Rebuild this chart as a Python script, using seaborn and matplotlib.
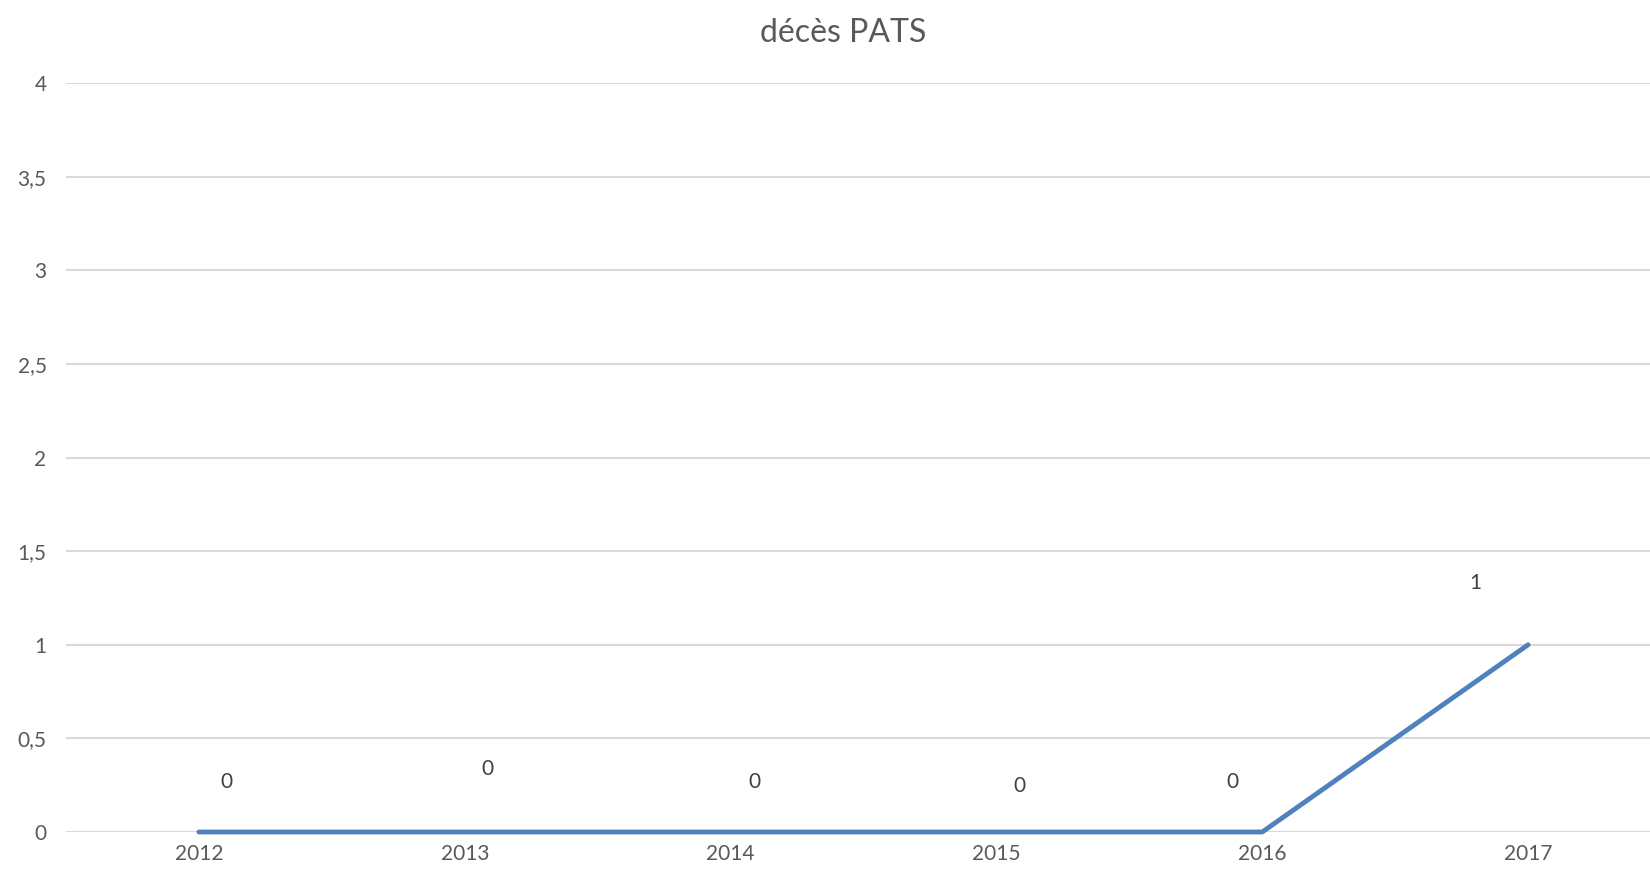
import matplotlib
matplotlib.use("Agg")
import matplotlib.pyplot as plt
import seaborn as sns
import pandas as pd

years = ["2012", "2013", "2014", "2015", "2016", "2017"]
deaths = [0, 0, 0, 0, 0, 1]
title = "décès PATS"
yticks = [0, 0.5, 1, 1.5, 2, 2.5, 3, 3.5, 4]

# manual data-label offsets (category units, value units) as placed in the original
label_dx = [0.105, 0.087, 0.088, 0.087, -0.113, -0.197]
label_dy = [0.267, 0.336, 0.267, 0.246, 0.267, 0.33]

sns.set_theme(style="white")
plt.rcParams["font.family"] = ["Lato", "DejaVu Sans"]

df = pd.DataFrame({"year": years, "deaths": deaths})
df["pos"] = range(len(years))

fig = plt.figure(figsize=(16.5, 8.73), dpi=100)
ax = fig.add_axes([66 / 1650, 41 / 873, 1595 / 1650, 749 / 873])

sns.lineplot(data=df, x="pos", y="deaths", ax=ax, color="#4F81BD",
             linewidth=3.5, solid_capstyle="round", zorder=3, clip_on=False)

ax.set_xlim(-0.5, len(years) - 0.5)
ax.set_ylim(0, 4)
ax.set_yticks(yticks)
ax.set_yticklabels([f"{v:g}".replace(".", ",") for v in yticks])
ax.set_xticks(df["pos"])
ax.set_xticklabels(years)
ax.grid(axis="y", color="#D9D9D9", linewidth=1.5)
ax.grid(axis="x", visible=False)
ax.set_axisbelow(True)
for s in ax.spines.values():
    s.set_visible(False)
ax.tick_params(axis="both", length=0, labelsize=15, labelcolor="#595959")
ax.tick_params(axis="y", pad=14)
ax.tick_params(axis="x", pad=9)
ax.set_xlabel("")
ax.set_ylabel("")

for p, v, dx, dy in zip(df["pos"], deaths, label_dx, label_dy):
    ax.text(p + dx, v + dy, f"{v}", ha="center", va="center",
            fontsize=15, color="#404040")

fig.text(0.511, 1 - 32.5 / 873, title, ha="center", va="center",
         fontsize=23, color="#595959")

fig.savefig("out.png", dpi=100)
